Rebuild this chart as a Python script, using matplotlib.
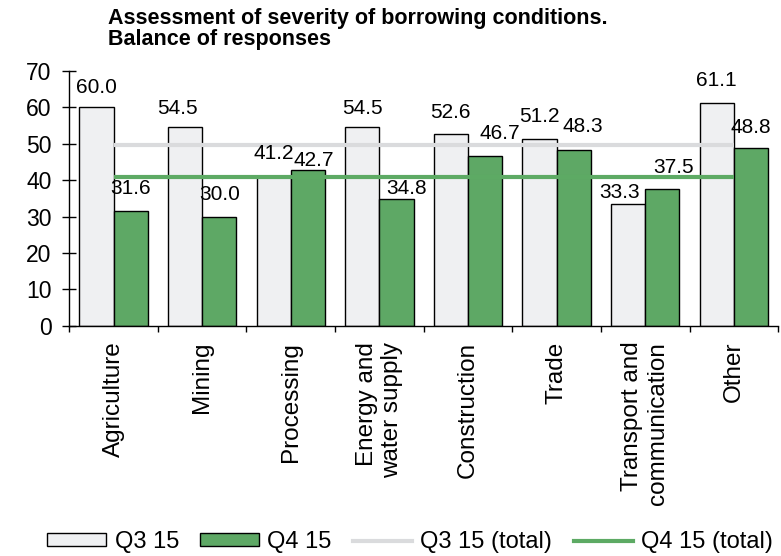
import matplotlib
matplotlib.use("Agg")
import matplotlib.pyplot as plt
from matplotlib.patches import Patch
from matplotlib.lines import Line2D
import numpy as np

plt.rcParams['font.family'] = ['Liberation Sans', 'DejaVu Sans']

# ---- data ----
categories = ["Agriculture", "Mining", "Processing", "Energy and\nwater supply",
              "Construction", "Trade", "Transport and\ncommunication", "Other"]
q3_15 = [60.0, 54.5, 41.2, 54.5, 52.6, 51.2, 33.3, 61.1]
q4_15 = [31.6, 30.0, 42.7, 34.8, 46.7, 48.3, 37.5, 48.8]
q3_15_total = 49.6
q4_15_total = 40.9
series_names = ["Q3 15", "Q4 15", "Q3 15 (total)", "Q4 15 (total)"]
yticks = [0, 10, 20, 30, 40, 50, 60, 70]

# ---- styling ----
light = "#eff0f2"
green = "#5ea865"
light_line = "#dadbdd"
green_line = "#5daa64"

# value-label placement (pixels: dx, dy of label centre above bar top)
q3_label_shift = [(0, 20), (-8, 19), (0, 22), (0, 19), (0, 22), (0, 23), (-8, 12), (0, 23)]
q4_label_shift = [(0, 22), (0, 22), (6, 10), (10, 11), (15, 22), (9, 23), (11, 22), (0, 21)]

W, H = 781, 556
fig = plt.figure(figsize=(W / 100, H / 100), dpi=100)
ax = fig.add_axes([69.3 / W, 1 - 325.7 / H, 708.8 / W, 254.8 / H])

x = np.arange(len(categories))
bw = 0.387
ax.bar(x - bw, q3_15, width=bw, align='edge', color=light,
       edgecolor='black', linewidth=1.0, zorder=2)
ax.bar(x, q4_15, width=bw, align='edge', color=green,
       edgecolor='black', linewidth=1.0, zorder=2)

# sector-wide totals drawn across the category centres
ax.plot([x[0], x[-1]], [q3_15_total, q3_15_total], color=light_line, lw=3.0,
        solid_capstyle='butt', zorder=3)
ax.plot([x[0], x[-1]], [q4_15_total, q4_15_total], color=green_line, lw=3.0,
        solid_capstyle='butt', zorder=3)

px = 72 / 100  # pixel -> point
for xi, v, (dx, dy) in zip(x - bw / 2, q3_15, q3_label_shift):
    ax.annotate(f"{v:.1f}", (xi, v), xytext=(dx * px, dy * px),
                textcoords='offset points', ha='center', va='center',
                fontsize=15, zorder=4)
for xi, v, (dx, dy) in zip(x + bw / 2, q4_15, q4_label_shift):
    ax.annotate(f"{v:.1f}", (xi, v), xytext=(dx * px, dy * px),
                textcoords='offset points', ha='center', va='center',
                fontsize=15, zorder=4)

ax.set_xlim(-0.5, len(categories) - 0.5)
ax.set_ylim(0, 70)
ax.set_yticks(yticks)
ax.tick_params(axis='y', direction='inout', length=9.4, width=1.0,
               labelsize=16.5, pad=8)

# boundary ticks (major) and category labels (minor)
ax.set_xticks(np.arange(-0.5, len(categories), 1.0))
ax.set_xticklabels([])
ax.set_xticks(x, minor=True)
ax.set_xticklabels(categories, minor=True, rotation=90, ha='center', va='top',
                   fontsize=17.5, linespacing=1.2, multialignment='right')
ax.tick_params(axis='x', which='major', direction='out', length=4.5, width=1.0)
ax.tick_params(axis='x', which='minor', length=0, pad=11.5)

for s in ('top', 'right'):
    ax.spines[s].set_visible(False)
for s in ('left', 'bottom'):
    ax.spines[s].set_linewidth(1.0)

fig.text(108 / W, 1 - 24 / H, "Assessment of severity of borrowing conditions.",
         fontsize=15.5, fontweight='bold', ha='left', va='baseline')
fig.text(108 / W, 1 - 45 / H, "Balance of responses",
         fontsize=15.5, fontweight='bold', ha='left', va='baseline')

handles = [Patch(facecolor=light, edgecolor='black', linewidth=1.0),
           Patch(facecolor=green, edgecolor='black', linewidth=1.0),
           Line2D([0], [0], color=light_line, lw=3.0),
           Line2D([0], [0], color=green_line, lw=3.0)]
fig.legend(handles, series_names, loc='center', bbox_to_anchor=(410 / W, 1 - 542 / H),
           ncol=4, frameon=False, fontsize=17, handlelength=2.5, handleheight=0.42,
           handletextpad=0.35, columnspacing=0.9, borderpad=0, borderaxespad=0)

fig.savefig("out.png", dpi=100)
